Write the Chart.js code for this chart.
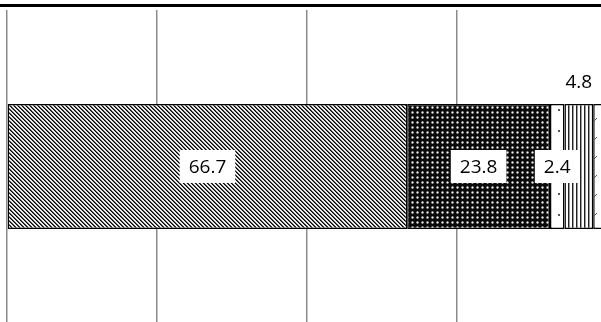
<!DOCTYPE html>
<html>
<head>
<meta charset="utf-8">
<script src="https://cdn.jsdelivr.net/npm/chart.js@4/dist/chart.umd.min.js"></script>
<style>
html,body{margin:0;padding:0;background:#fff;overflow:hidden;width:601px;height:322px;}
canvas{display:block;}
</style>
</head>
<body>
<canvas id="c" width="614" height="330"></canvas>
<script>
const categories = [''];
const seriesNames = ['Series 1', 'Series 2', 'Series 3', 'Series 4', 'Series 5'];
const values = [66.7, 23.8, 2.4, 4.8, 2.4];
const axisTicks = [0, 25, 50, 75, 100];

function tile(w, h, painter) {
  const c = document.createElement('canvas');
  c.width = w; c.height = h;
  const g = c.getContext('2d');
  g.fillStyle = '#fff'; g.fillRect(0, 0, w, h);
  painter(g, w, h);
  return document.getElementById('c').getContext('2d').createPattern(c, 'repeat');
}
function px(g, x, y, col) { g.fillStyle = col; g.fillRect(x, y, 1, 1); }

const patterns = [
  // back-slash diagonal stripes
  tile(4, 4, (g) => {
    for (let y = 0; y < 4; y++) for (let x = 0; x < 4; x++) {
      const d = ((x - y) % 4 + 4) % 4;
      if (d === 0) px(g, x, y, '#000');
      else if (d === 1) px(g, x, y, '#555');
      else if (d === 3) px(g, x, y, '#d8d8d8');
    }
  }),
  // dark with light dots
  tile(5, 5, (g) => {
    g.fillStyle = '#0a0a0a'; g.fillRect(0, 0, 5, 5);
    px(g, 1, 1, '#3a3a3a'); px(g, 3, 1, '#3a3a3a'); px(g, 1, 3, '#3a3a3a'); px(g, 3, 3, '#3a3a3a');
    px(g, 2, 1, '#9a9a9a'); px(g, 1, 2, '#9a9a9a'); px(g, 3, 2, '#9a9a9a'); px(g, 2, 3, '#9a9a9a');
    px(g, 2, 2, '#f0f0f0');
  }),
  // sparse dots
  tile(16, 21, (g) => {
    g.fillStyle = '#555'; g.fillRect(14, 4, 2, 2);
  }),
  // vertical stripes
  tile(4, 1, (g) => {
    px(g, 0, 0, '#222'); px(g, 1, 0, '#999');
  }),
  // sparse forward slashes
  tile(12, 19, (g) => {
    g.strokeStyle = '#555'; g.lineWidth = 1;
    g.beginPath(); g.moveTo(2, 11); g.lineTo(9, 4); g.stroke();
  })
];

const topRule = {
  id: 'topRule',
  afterDraw(chart) {
    const ctx = chart.ctx;
    ctx.save();
    ctx.fillStyle = '#000';
    ctx.fillRect(0, 4, chart.width, 3);
    ctx.restore();
  }
};

const boxLabels = {
  id: 'boxLabels',
  afterDatasetsDraw(chart) {
    const ctx = chart.ctx;
    ctx.save();
    ctx.font = '19px "Open Sans", "Liberation Sans", sans-serif';
    ctx.textAlign = 'center';
    ctx.textBaseline = 'middle';
    const placed = [];
    const overlaps = (b) => placed.some(p => b.x1 < p.x2 + 1 && b.x2 > p.x1 - 1 && b.y1 < p.y2 && b.y2 > p.y1);
    chart.data.datasets.forEach((ds, i) => {
      const bar = chart.getDatasetMeta(i).data[0];
      const txt = ds.data[0].toFixed(1);
      const w = ctx.measureText(txt).width + 18;
      const h = 33;
      const cx = (bar.x + bar.base) / 2;
      let cy = bar.y;
      let b = {x1: cx - w / 2, x2: cx + w / 2, y1: cy - h / 2, y2: cy + h / 2};
      if (overlaps(b)) {
        cy = bar.y - bar.height / 2 - 22;
        b = {x1: cx - w / 2, x2: cx + w / 2, y1: cy - h / 2, y2: cy + h / 2};
        if (overlaps(b)) return;
      }
      placed.push(b);
      ctx.fillStyle = '#fff';
      ctx.fillRect(b.x1, b.y1, w, h);
      ctx.fillStyle = '#000';
      ctx.fillText(txt, cx, cy + 1);
    });
    ctx.restore();
  }
};

new Chart(document.getElementById('c'), {
  type: 'bar',
  data: {
    labels: categories,
    datasets: values.map((v, i) => ({
      label: seriesNames[i],
      data: [v],
      backgroundColor: patterns[i],
      borderColor: '#000',
      borderWidth: 1.5,
      borderSkipped: false,
      barPercentage: 0.5,
      categoryPercentage: 0.8
    }))
  },
  options: {
    indexAxis: 'y',
    responsive: false,
    animation: false,
    layout: {padding: {left: 7, right: 7, top: 10, bottom: 7}},
    plugins: {legend: {display: false}, tooltip: {enabled: false}},
    scales: {
      x: {
        stacked: true,
        min: axisTicks[0],
        max: axisTicks[axisTicks.length - 1],
        afterBuildTicks(axis) { axis.ticks = axisTicks.map(v => ({value: v})); },
        ticks: {display: false},
        grid: {color: '#8a8a8a', lineWidth: 1.5, drawTicks: false},
        border: {display: false}
      },
      y: {
        stacked: true,
        display: false
      }
    }
  },
  plugins: [topRule, boxLabels]
});
</script>
</body>
</html>
